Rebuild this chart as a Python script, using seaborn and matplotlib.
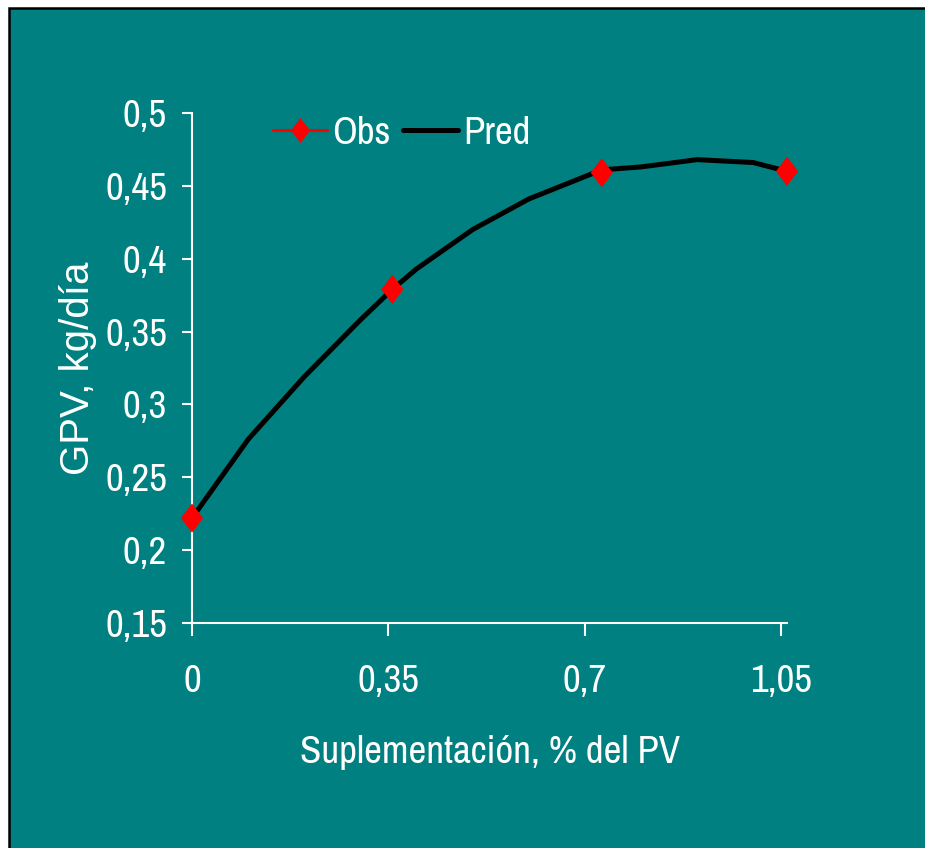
import matplotlib
matplotlib.use("Agg")
import matplotlib.pyplot as plt
from matplotlib.patches import Rectangle
from matplotlib.lines import Line2D
import seaborn as sns
import pandas as pd

# ---- data ----
obs_x = [0.0, 0.357, 0.73, 1.06]
obs_y = [0.222, 0.379, 0.459, 0.460]
pred_x = [0.0, 0.1, 0.2, 0.3, 0.357, 0.4, 0.5, 0.6, 0.73, 0.8, 0.9, 1.0, 1.06]
pred_y = [0.222, 0.276, 0.319, 0.358, 0.379, 0.393, 0.420, 0.441, 0.461, 0.463, 0.468, 0.466, 0.460]
x_ticks = [0.0, 0.35, 0.7, 1.05]
x_ticklabels = ["0", "0,35", "0,7", "1,05"]
y_ticks = [0.15, 0.2, 0.25, 0.3, 0.35, 0.4, 0.45, 0.5]
y_ticklabels = ["0,15", "0,2", "0,25", "0,3", "0,35", "0,4", "0,45", "0,5"]
x_label = "Suplementación, % del PV"
y_label = "GPV, kg/día"
series_names = ["Obs", "Pred"]

obs_df = pd.DataFrame({"x": obs_x, "y": obs_y})
pred_df = pd.DataFrame({"x": pred_x, "y": pred_y})

TEAL = "#008080"
sns.set_theme(style="white")
NARROW = ["Archivo Narrow", "PT Sans Narrow", "Roboto Condensed", "DejaVu Sans"]
plt.rcParams["font.family"] = NARROW

W, H = 925, 848
fig = plt.figure(figsize=(W / 100, H / 100), dpi=100, facecolor="white")
bg = Rectangle((9 / W, -0.05), 1.2, (1 - 8 / H) + 0.05, transform=fig.transFigure,
               facecolor=TEAL, edgecolor="black", linewidth=1.8, zorder=-5)
fig.patches.append(bg)

left, right, top, bottom = 192 / W, 787 / W, 113 / H, 623 / H
ax = fig.add_axes([left, 1 - bottom, right - left, bottom - top])
ax.set_facecolor("none")
ax.set_zorder(2)

sns.lineplot(data=pred_df, x="x", y="y", color="black", linewidth=3.6, ax=ax,
             zorder=2, legend=False)
diamond = [(0, 1), (0.76, 0), (0, -1), (-0.76, 0), (0, 1)]
sns.scatterplot(data=obs_df, x="x", y="y", marker=diamond, s=440, color="red",
                edgecolor="none", linewidth=0, ax=ax, zorder=3, legend=False,
                clip_on=False)

ax.set_xlim(0, 1.06)
ax.set_ylim(0.15, 0.5)
ax.set_xticks(x_ticks)
ax.set_xticklabels(x_ticklabels)
ax.set_yticks(y_ticks)
ax.set_yticklabels(y_ticklabels)

for s in ["top", "right"]:
    ax.spines[s].set_visible(False)
for s in ["left", "bottom"]:
    ax.spines[s].set_color("white")
    ax.spines[s].set_linewidth(1.5)

ax.tick_params(axis="both", colors="white", labelsize=28, width=1.5, direction="out")
ax.tick_params(axis="y", length=7, pad=11)
ax.tick_params(axis="x", length=9.5, pad=20)
ax.tick_params(left=True, bottom=True)

ax.set_xlabel(x_label, color="white", fontsize=28, labelpad=26)
ax.set_ylabel(y_label, color="white", fontsize=29, labelpad=5.5,
              family=["Liberation Sans", "DejaVu Sans"])

handles = [
    Line2D([], [], color="red", linewidth=2.2, marker=diamond, markersize=18,
           markeredgewidth=0, markerfacecolor="red"),
    Line2D([], [], color="black", linewidth=3.6),
]
fig.legend(handles, series_names, loc="center left",
           bbox_to_anchor=(273 / W, 1 - 133 / H), bbox_transform=fig.transFigure,
           ncol=2, frameon=False, fontsize=28, labelcolor="white",
           handlelength=1.4, handletextpad=0.13, columnspacing=0.32,
           borderpad=0, borderaxespad=0)

fig.savefig("out.png", dpi=100, facecolor="white")
